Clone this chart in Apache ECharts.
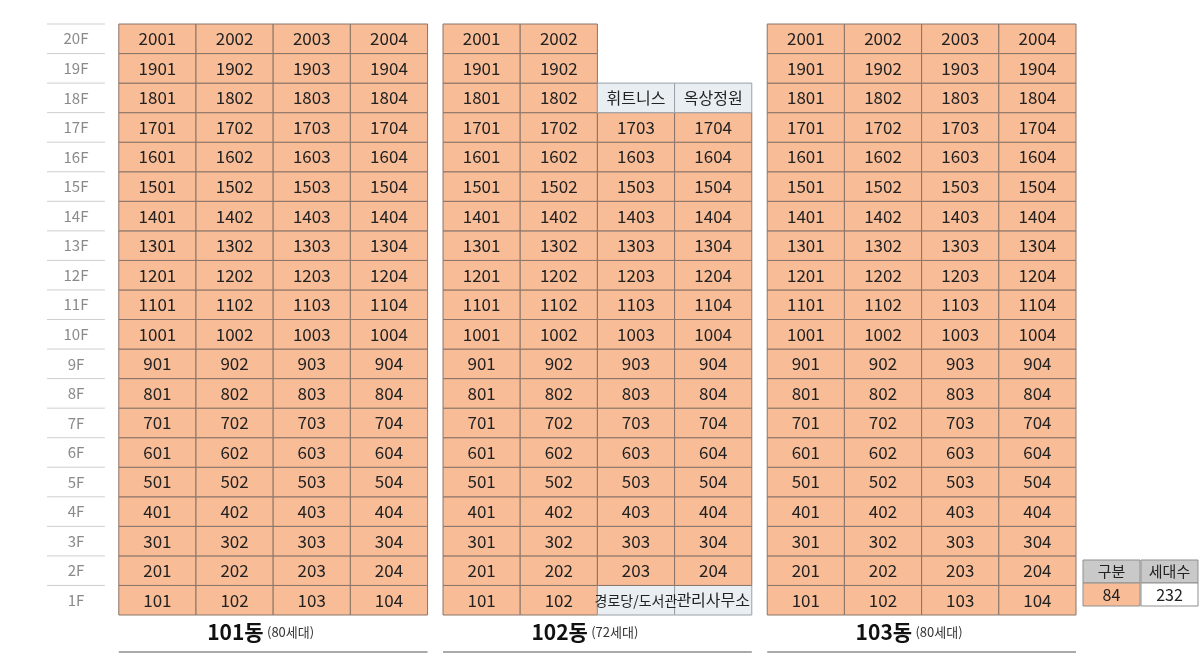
<!DOCTYPE html>
<html>
<head>
<meta charset="utf-8">
<script src="https://cdn.jsdelivr.net/npm/echarts@6/dist/echarts.min.js"></script>
<style>html,body{margin:0;padding:0;background:#fff}#main{width:1200px;height:668px}</style>
</head>
<body>
<div id="main"></div>
<script>
var floors = ['1F','2F','3F','4F','5F','6F','7F','8F','9F','10F','11F','12F','13F','14F','15F','16F','17F','18F','19F','20F'];
var buildings = ['101동', '102동', '103동'];
var households = ['(80세대)', '(72세대)', '(80세대)'];
// 102동 3,4호 라인의 특수 공간
var facilityTop = ['휘트니스', '옥상정원'];      // 18F
var facilityBottom = ['경로당/도서관', '관리사무소']; // 1F
var summaryHead = ['구분', '세대수'];
var summaryVal = ['84', '232'];

var FONT = '"Noto Sans CJK KR", "Noto Sans", sans-serif';
var GAP = 0.2;

var cells = [];
var floorCells = [];
for (var f = 0; f < floors.length; f++) {
    floorCells.push([-0.93, f, floors[f]]);
    for (var b = 0; b < 3; b++) {
        for (var c = 0; c < 4; c++) {
            var x = b * (4 + GAP) + c;
            var label = (f + 1) + '0' + (c + 1);
            var kind = 'unit';
            if (b == 1 && c >= 2) {
                if (f >= 18) continue;
                if (f == 17) { label = facilityTop[c - 2]; kind = 'fac'; }
                if (f == 0) { label = facilityBottom[c - 2]; kind = 'fac'; }
            }
            cells.push([x, f, label, kind]);
        }
    }
}

var chart = echarts.init(document.getElementById('main'));
chart.setOption({
    animation: false,
    grid: { left: 47, right: 124, top: 24, bottom: 53 },
    xAxis: { type: 'value', min: -0.93, max: 12.4, show: false },
    yAxis: { type: 'category', data: floors, show: false },
    series: [{
        type: 'custom',
        data: cells,
        renderItem: function (params, api) {
            var p = api.coord([api.value(0), api.value(1)]);
            var w = api.size([1, 0])[0];
            var h = api.size([0, 1])[1];
            var kind = cells[params.dataIndex][3];
            var label = cells[params.dataIndex][2];
            return {
                type: 'rect',
                shape: { x: p[0], y: p[1] - h / 2, width: w, height: h },
                style: {
                    fill: kind == 'fac' ? '#e9eef3' : '#f8bc97',
                    stroke: kind == 'fac' ? '#9aa0a6' : '#8a7468',
                    lineWidth: 1,
                    text: label,
                    textFill: '#222',
                    fontSize: kind == 'fac' ? (label.length > 5 ? 14 : 16) : 17,
                    fontFamily: FONT
                }
            };
        }
    }, {
        type: 'custom',
        data: floorCells,
        renderItem: function (params, api) {
            var p = api.coord([api.value(0), api.value(1)]);
            var w = api.size([0.75, 0])[0];
            var h = api.size([0, 1])[1];
            return {
                type: 'group',
                children: [{
                    type: 'line',
                    shape: { x1: p[0], y1: p[1] - h / 2, x2: p[0] + w, y2: p[1] - h / 2 },
                    style: { stroke: '#cfcfcf', lineWidth: 1 }
                }, {
                    type: 'text',
                    style: {
                        x: p[0] + w / 2, y: p[1], text: floorCells[params.dataIndex][2],
                        align: 'center', verticalAlign: 'middle',
                        fill: '#8a8a8a', fontSize: 15, fontFamily: FONT
                    }
                }]
            };
        }
    }]
});

// 동 이름과 하단 라인, 요약표
var g = [];
for (var b = 0; b < 3; b++) {
    var x0 = chart.convertToPixel({ gridIndex: 0 }, [b * (4 + GAP), 0])[0];
    var x1 = chart.convertToPixel({ gridIndex: 0 }, [b * (4 + GAP) + 4, 0])[0];
    var cx = (x0 + x1) / 2;
    g.push({
        type: 'text', left: cx - 66, top: 622,
        style: {
            rich: {
                a: { fontSize: 21, fontWeight: 'bold', fill: '#111', fontFamily: FONT },
                b: { fontSize: 13, fill: '#333', fontFamily: FONT }
            },
            text: '{a|' + buildings[b] + '} {b|' + households[b] + '}'
        }
    });
    g.push({ type: 'line', shape: { x1: x0, y1: 652, x2: x1, y2: 652 }, style: { stroke: '#aaaaaa', lineWidth: 2 } });
}
var sx = [1083, 1141], sw = 57;
for (var i = 0; i < 2; i++) {
    g.push({ type: 'rect', shape: { x: sx[i], y: 560, width: sw, height: 23 },
        style: { fill: '#c9c9c9', stroke: '#8f8f8f', lineWidth: 1, text: summaryHead[i], textFill: '#222', fontSize: 15, fontFamily: FONT } });
    g.push({ type: 'rect', shape: { x: sx[i], y: 583, width: sw, height: 23 },
        style: { fill: i == 0 ? '#f8bc97' : '#fff', stroke: '#8f8f8f', lineWidth: 1, text: summaryVal[i], textFill: '#222', fontSize: 16, fontFamily: FONT } });
}
chart.setOption({ graphic: g });
</script>
</body>
</html>
